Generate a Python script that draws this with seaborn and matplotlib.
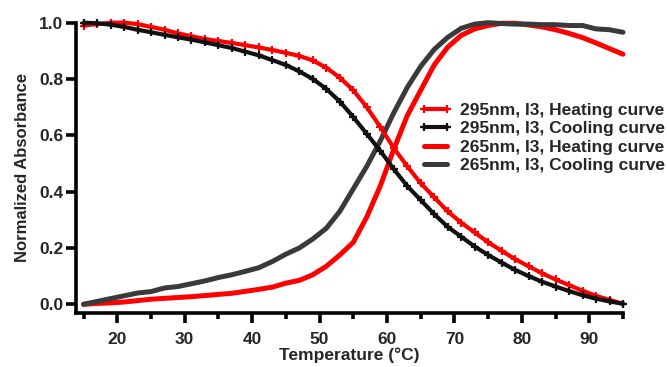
import numpy as np
import pandas as pd
import matplotlib
matplotlib.use("Agg")
import matplotlib.pyplot as plt
import seaborn as sns
from matplotlib.ticker import MultipleLocator

# ---- data ----
temp_2 = list(range(15, 96, 2))

a295_heat = [0.99, 0.995, 1.0, 1.0, 0.995, 0.985, 0.975, 0.962, 0.952, 0.942,
             0.935, 0.928, 0.92, 0.912, 0.903, 0.893, 0.882, 0.866, 0.84, 0.805,
             0.76, 0.70, 0.63, 0.555, 0.49, 0.43, 0.38, 0.33, 0.29, 0.255,
             0.22, 0.19, 0.16, 0.135, 0.11, 0.088, 0.068, 0.048, 0.03, 0.015, 0.002]
a295_cool = [1.0, 0.998, 0.993, 0.985, 0.975, 0.966, 0.957, 0.948, 0.94, 0.93,
             0.92, 0.91, 0.897, 0.884, 0.867, 0.85, 0.827, 0.80, 0.765, 0.72,
             0.665, 0.605, 0.545, 0.48, 0.42, 0.37, 0.32, 0.275, 0.24, 0.205,
             0.175, 0.148, 0.122, 0.10, 0.08, 0.063, 0.047, 0.032, 0.02, 0.01, 0.002]
a265_heat = [0.0, 0.003, 0.005, 0.008, 0.013, 0.018, 0.021, 0.024, 0.027, 0.031,
             0.035, 0.039, 0.046, 0.053, 0.061, 0.075, 0.085, 0.105, 0.135, 0.175,
             0.22, 0.31, 0.42, 0.55, 0.67, 0.76, 0.85, 0.913, 0.955, 0.978,
             0.99, 0.998, 0.998, 0.992, 0.985, 0.975, 0.962, 0.947, 0.928, 0.908, 0.888]
a265_cool = [0.0, 0.01, 0.02, 0.03, 0.04, 0.045, 0.058, 0.063, 0.073, 0.083,
             0.095, 0.105, 0.117, 0.13, 0.152, 0.178, 0.2, 0.232, 0.27, 0.33,
             0.41, 0.49, 0.58, 0.68, 0.77, 0.845, 0.905, 0.948, 0.98, 0.995,
             1.0, 0.997, 0.995, 0.995, 0.993, 0.993, 0.99, 0.99, 0.978, 0.975, 0.966]

labels = ["295nm, I3, Heating curve", "295nm, I3, Cooling curve",
          "265nm, I3, Heating curve", "265nm, I3, Cooling curve"]
x_ticks = [20, 30, 40, 50, 60, 70, 80, 90]
y_ticks = [0.0, 0.2, 0.4, 0.6, 0.8, 1.0]

# ---- style ----
sns.set_style("ticks")
plt.rcParams['font.family'] = ['Liberation Sans', 'DejaVu Sans']
plt.rcParams['font.weight'] = 'bold'

fig = plt.figure(figsize=(6.67, 3.67), dpi=100)
ax = fig.add_axes([76/667, 1 - 313/367, (623 - 76)/667, (313 - 22.7)/367])

RED = "#ff0000"
GRAY = "#3a3a3a"
BLACK = "#111111"

sns.lineplot(x=temp_2, y=a265_heat, ax=ax, color=RED, lw=3.6, label=labels[2])
sns.lineplot(x=temp_2, y=a265_cool, ax=ax, color=GRAY, lw=3.6, label=labels[3])
sns.lineplot(x=temp_2, y=a295_heat, ax=ax, color=RED, lw=3.0, marker="+",
             markersize=6, markeredgewidth=1.6, markeredgecolor=RED, label=labels[0])
sns.lineplot(x=temp_2, y=a295_cool, ax=ax, color=BLACK, lw=3.0, marker="+",
             markersize=6, markeredgewidth=1.6, markeredgecolor=BLACK, label=labels[1])
for ln in ax.lines:
    ln.set_clip_on(False)

ax.set_xlim(15 - 7.6/6.74, 95)
ax.set_ylim(-0.031, 1.0)
ax.set_xticks(x_ticks)
ax.xaxis.set_minor_locator(MultipleLocator(5))
ax.set_yticks(y_ticks)
ax.set_yticklabels([f"{v:.1f}" for v in y_ticks])

for s in ["top", "right"]:
    ax.spines[s].set_visible(False)
for s in ["left", "bottom"]:
    ax.spines[s].set_linewidth(2.6)
    ax.spines[s].set_color("black")

ax.tick_params(axis="both", which="major", direction="out", length=7, width=2.6,
               labelsize=12.5, color="black")
ax.tick_params(axis="x", which="major", pad=7)
ax.tick_params(axis="y", which="major", pad=2)
ax.tick_params(axis="x", which="minor", direction="out", length=4, width=2.6, color="black")
for t in ax.get_xticklabels() + ax.get_yticklabels():
    t.set_fontweight("bold")

ax.set_xlabel("Temperature (°C)", fontsize=12.5, fontweight="bold", labelpad=0)
ax.set_ylabel("Normalized Absorbance", fontsize=12, fontweight="bold", labelpad=7)

h, l = ax.get_legend_handles_labels()
hd = dict(zip(l, h))
leg = ax.legend([hd[k] for k in labels], labels, loc="center left",
                bbox_to_anchor=(419/667, 1 - 138/367), bbox_transform=fig.transFigure,
                frameon=False, fontsize=12.5, handlelength=1.9, handletextpad=0.45,
                labelspacing=0.18, numpoints=2, borderpad=0, borderaxespad=0)
for t in leg.get_texts():
    t.set_fontweight("bold")

fig.savefig("out.png", dpi=100)
